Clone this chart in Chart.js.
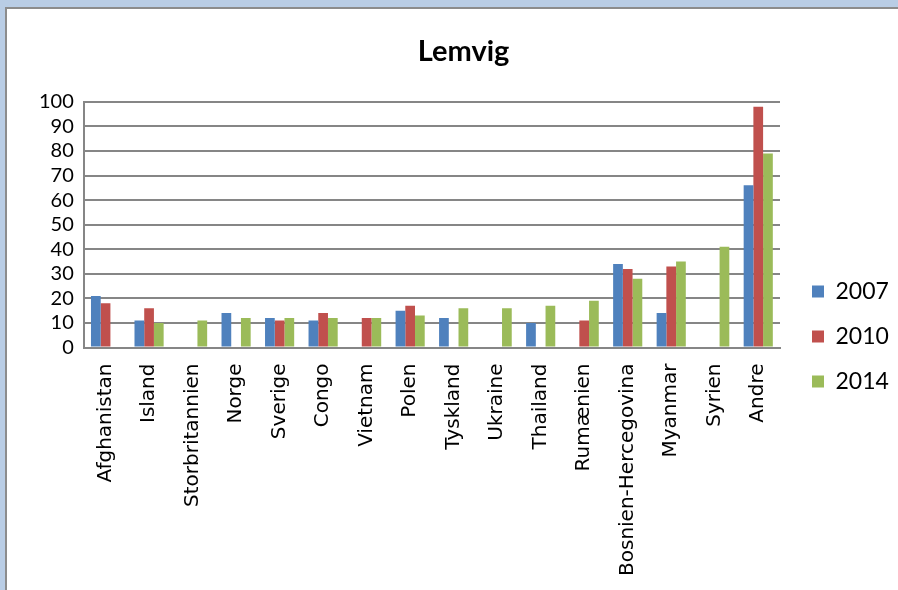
<!DOCTYPE html>
<html>
<head>
<meta charset="utf-8">
<script src="https://cdn.jsdelivr.net/npm/chart.js@4.4.0/dist/chart.umd.min.js"></script>
<style>
  html, body { margin: 0; padding: 0; background: #b9cde5; }
  body { width: 898px; height: 590px; position: relative; overflow: hidden; }
  #frame {
    position: absolute; left: 5px; top: 7px; width: 893px; height: 583px;
    background: #fff; border-left: 2px solid #8c8c8c; border-top: 2px solid #8c8c8c;
  }
  #wrap { position: absolute; left: 0; top: 0; width: 891px; height: 581px; }
</style>
</head>
<body>
<div id="frame"><div id="wrap"><canvas id="myChart"></canvas></div></div>
<script>
// data
var categories = ['Afghanistan', 'Island', 'Storbritannien', 'Norge', 'Sverige', 'Congo', 'Vietnam', 'Polen',
  'Tyskland', 'Ukraine', 'Thailand', 'Rumænien', 'Bosnien-Hercegovina', 'Myanmar', 'Syrien', 'Andre'];
var years = ['2007', '2010', '2014'];
var values2007 = [21, 11, null, 14, 12, 11, null, 15, 12, null, 10, null, 34, 14, null, 66];
var values2010 = [18, 16, null, null, 11, 14, 12, 17, null, null, null, 11, 32, 33, null, 98];
var values2014 = [null, 10, 11, 12, 12, 12, 12, 13, 16, 16, 17, 19, 28, 35, 41, 79];
var yTicks = [0, 10, 20, 30, 40, 50, 60, 70, 80, 90, 100];

var colors = ['#4f81bd', '#c0504d', '#9bbb59'];
var series = [values2007, values2010, values2014];

const data = {
  labels: categories,
  datasets: years.map(function(y, i) {
    return {
      label: y,
      data: series[i],
      backgroundColor: colors[i],
      borderWidth: 0,
      barPercentage: 1,
      categoryPercentage: 0.67
    };
  })
};

const config = {
  type: 'bar',
  data,
  options: {
    responsive: true,
    maintainAspectRatio: false,
    animation: false,
    layout: { padding: { left: 22, right: 0, top: 0, bottom: -2 } },
    plugins: {
      title: {
        display: true,
        text: 'Lemvig',
        color: '#000',
        font: { family: 'Lato', size: 29, weight: 'bold' },
        padding: { top: 25, bottom: 33 }
      },
      legend: {
        position: 'right',
        maxWidth: 108,
        // empty title only pushes the entries down
        title: { display: true, text: ' ', font: { size: 10 }, padding: 30 },
        labels: {
          color: '#000',
          font: { family: 'Lato', size: 23 },
          boxWidth: 12,
          boxHeight: 12,
          padding: 22
        }
      },
      tooltip: { enabled: false }
    },
    scales: {
      x: {
        grid: { display: false, drawTicks: false },
        border: { color: '#868686', width: 2 },
        ticks: {
          color: '#000',
          font: { family: 'DejaVu Sans', size: 20 },
          minRotation: 90,
          maxRotation: 90,
          autoSkip: false,
          padding: 16
        }
      },
      y: {
        min: 0,
        max: 100,
        afterBuildTicks: function(axis) {
          axis.ticks = yTicks.map(function(v) { return { value: v }; });
        },
        grid: { color: '#868686', lineWidth: 2, drawTicks: false },
        border: { color: '#868686', width: 2 },
        ticks: {
          color: '#000',
          font: { family: 'Lato', size: 20 },
          autoSkip: false,
          padding: 10
        }
      },
      // spacer between plot and legend
      gap: {
        type: 'linear',
        position: 'right',
        grid: { display: false, drawTicks: false },
        border: { display: false },
        ticks: { display: false },
        afterFit: function(axis) { axis.width = 10; }
      }
    }
  }
};

const myChart = new Chart(document.getElementById('myChart'), config);
</script>
</body>
</html>
